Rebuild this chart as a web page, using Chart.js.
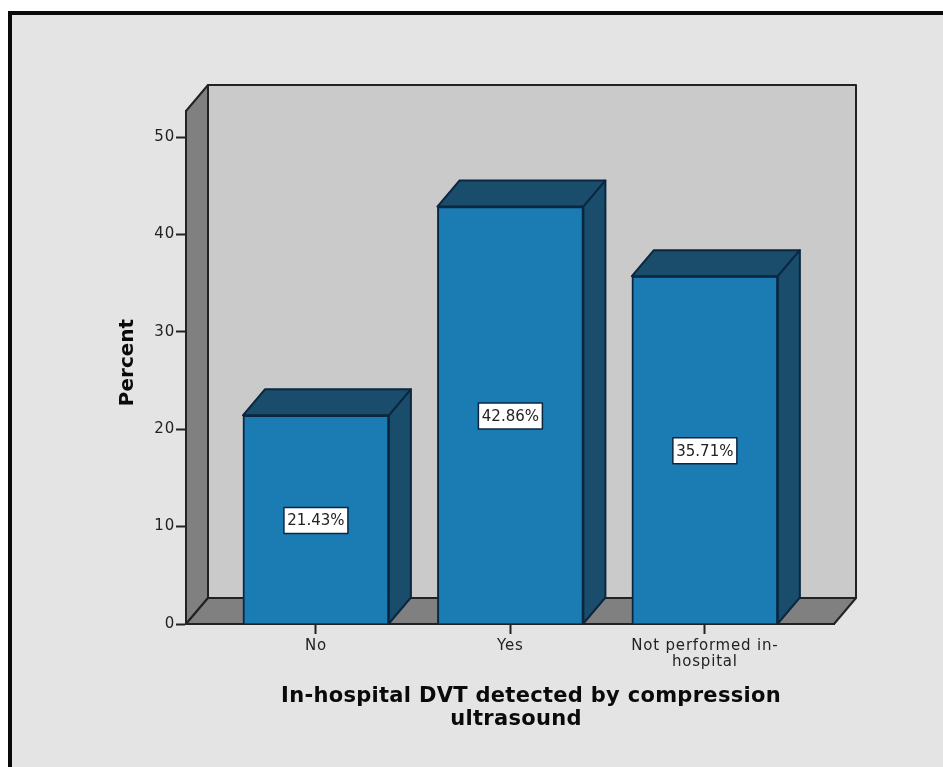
<!DOCTYPE html>
<html>
<head>
<meta charset="utf-8">
<script src="https://cdn.jsdelivr.net/npm/chart.js@4"></script>
<style>
  html, body { margin: 0; padding: 0; background: #fff; overflow: hidden; }
  #frame { position: absolute; left: 8px; top: 11px; width: 935px; height: 756px; box-sizing: border-box;
           background: #e4e4e4; border-top: 4px solid #0a0a0a; border-left: 4px solid #0a0a0a; }
  #chart { position: absolute; left: 0; top: 0; }
</style>
</head>
<body>
<div id="frame"></div>
<canvas id="chart" width="943" height="767"></canvas>
<script>
const categories = ['No', 'Yes', ['Not performed in-', 'hospital']];
const percents = [21.43, 42.86, 35.71];
const yTicks = [0, 10, 20, 30, 40, 50];
const xTitle = ['In-hospital DVT detected by compression', 'ultrasound'];
const yTitle = 'Percent';

const fontName = '"DejaVu Sans"';
const depthX = 22, depthY = 26;
const lineDark = '#222';
const barEdge = '#0b2740';

function poly(ctx, pts, fill, stroke, width) {
  ctx.beginPath();
  pts.forEach((p, i) => i ? ctx.lineTo(p[0], p[1]) : ctx.moveTo(p[0], p[1]));
  ctx.closePath();
  ctx.fillStyle = fill;
  ctx.fill();
  ctx.strokeStyle = stroke;
  ctx.lineWidth = width;
  ctx.stroke();
}

// back wall, side wall and floor of the 3d box
const box3d = {
  id: 'box3d',
  beforeDraw(chart) {
    const { ctx, chartArea: a } = chart;
    // tick labels in the original are set a bit wider than DejaVu
    ctx.letterSpacing = '0.8px';
    ctx.save();
    ctx.lineJoin = 'round';
    poly(ctx, [[a.left + depthX, a.top - depthY], [a.right + depthX, a.top - depthY], [a.right + depthX, a.bottom - depthY], [a.left + depthX, a.bottom - depthY]], '#cacaca', lineDark, 2);
    poly(ctx, [[a.left, a.top], [a.left + depthX, a.top - depthY], [a.left + depthX, a.bottom - depthY], [a.left, a.bottom]], '#808080', lineDark, 2);
    poly(ctx, [[a.left, a.bottom], [a.left + depthX, a.bottom - depthY], [a.right + depthX, a.bottom - depthY], [a.right, a.bottom]], '#808080', lineDark, 2);
    ctx.restore();
  },
  // top and right faces of each bar, then the value boxes
  afterDatasetsDraw(chart) {
    const { ctx } = chart;
    const bars = chart.getDatasetMeta(0).data;
    ctx.save();
    ctx.lineJoin = 'round';
    bars.forEach(bar => {
      const l = bar.x - bar.width / 2, r = bar.x + bar.width / 2, t = bar.y, b = bar.base;
      poly(ctx, [[l, t], [l + depthX, t - depthY], [r + depthX, t - depthY], [r, t]], '#1a4c6b', barEdge, 2);
      poly(ctx, [[r, t], [r + depthX, t - depthY], [r + depthX, b - depthY], [r, b]], '#1a4c6b', barEdge, 2);
    });
    bars.forEach((bar, i) => {
      const midY = (bar.y + bar.base) / 2 + 1;
      ctx.fillStyle = '#fff';
      ctx.strokeStyle = barEdge;
      ctx.lineWidth = 1.5;
      ctx.fillRect(bar.x - 32, midY - 13, 64, 26);
      ctx.strokeRect(bar.x - 32, midY - 13, 64, 26);
      ctx.fillStyle = '#222';
      ctx.letterSpacing = '0px';
      ctx.font = '15px ' + fontName;
      ctx.textAlign = 'center';
      ctx.textBaseline = 'middle';
      ctx.fillText(percents[i].toFixed(2) + '%', bar.x, midY + 1);
    });
    ctx.restore();
  },
  // axis titles sit off centre from the plot, so they are placed by hand
  afterDraw(chart) {
    const { ctx } = chart;
    ctx.save();
    ctx.fillStyle = '#0a0a0a';
    ctx.textAlign = 'center';
    ctx.textBaseline = 'middle';
    ctx.letterSpacing = '0.3px';
    ctx.font = 'bold 21px ' + fontName;
    ctx.fillText(xTitle[0], 531, 697);
    ctx.fillText(xTitle[1], 516, 720);
    ctx.translate(128, 362.5);
    ctx.rotate(-Math.PI / 2);
    ctx.letterSpacing = '0px';
    ctx.font = 'bold 20px ' + fontName;
    ctx.fillText(yTitle, 0, 0);
    ctx.restore();
  }
};

new Chart(document.getElementById('chart').getContext('2d'), {
  type: 'bar',
  data: {
    datasets: [{
      data: percents.map((v, i) => ({ x: i, y: v })),
      backgroundColor: '#1a7cb3',
      borderColor: barEdge,
      borderWidth: 2,
      barThickness: 146
    }]
  },
  options: {
    responsive: false,
    animation: false,
    layout: { padding: { left: 110, top: 111, right: 109, bottom: 0 } },
    plugins: { legend: { display: false }, tooltip: { enabled: false } },
    scales: {
      x: {
        type: 'linear',
        offset: false,
        min: -0.668,
        max: 2.664,
        afterBuildTicks: axis => { axis.ticks = categories.map((c, i) => ({ value: i })); },
        afterFit: axis => { axis.height = 143; },
        grid: { display: true, offset: false, drawOnChartArea: false, tickLength: 10, tickColor: lineDark, tickWidth: 2 },
        border: { display: true, color: lineDark, width: 2 },
        ticks: {
          autoSkip: false,
          maxRotation: 0,
          padding: 4,
          color: '#222',
          font: { family: fontName, size: 15, lineHeight: 1.05 },
          callback: value => categories[value]
        }
      },
      y: {
        min: 0,
        max: 52.67,
        afterBuildTicks: axis => { axis.ticks = yTicks.map(v => ({ value: v })); },
        afterFit: axis => { axis.width = 76; },
        grid: { display: true, drawOnChartArea: false, tickLength: 10, tickColor: lineDark, tickWidth: 2 },
        border: { display: true, color: lineDark, width: 2 },
        ticks: {
          padding: 1,
          color: '#222',
          font: { family: fontName, size: 15 }
        }
      }
    }
  },
  plugins: [box3d]
});
</script>
</body>
</html>
